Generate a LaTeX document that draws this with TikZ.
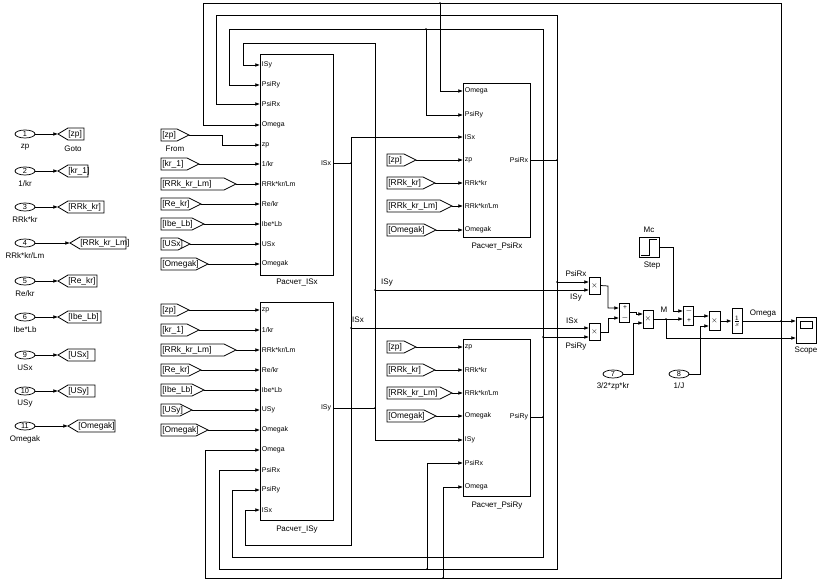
\documentclass[tikz,border=0pt]{standalone}
\usepackage{fontspec}
\setmainfont{Liberation Sans}
\usetikzlibrary{arrows.meta,shapes.geometric}
\newcommand\myinp[4]{\coordinate (#1) at (#2,#3); \node[plab,anchor=west] at (#2,#3) {#4};}
\newcommand\myoutp[4]{\coordinate (#1) at (#2,#3); \node[plab,anchor=east] at (#2,#3) {#4};}
\newcommand\myfrom[5]{%
 \draw[tag] (#2,#4-6) -- (#3,#4-6) -- (#3+12,#4) -- (#3,#4+6) -- (#2,#4+6) -- cycle;
 \node[tlab,anchor=west] at (#2+1,#4) {#5};
 \coordinate (#1) at (#3+12,#4);}
\newcommand\mygoto[5]{%
 \draw[tag] (#2,#4) -- (#2+10,#4-6) -- (#3,#4-6) -- (#3,#4+6) -- (#2+10,#4+6) -- cycle;
 \node[tlab,anchor=west] at (#2+10,#4) {#5};
 \coordinate (#1) at (#2,#4);}
\newcommand\myport[5]{%
 \node[draw,ellipse,minimum width=15pt,minimum height=6pt,inner sep=0pt,font=\fontsize{5.5}{6}\selectfont] (#1) at (#2,#3) {#4};
 \node[lab] at (#2,#3+13) {#5};}
\begin{document}
\begin{tikzpicture}[x=0.75pt,y=-0.75pt,line width=0.55pt,
 w/.style={-{Latex[length=3.5pt,width=2.8pt]}},
 tag/.style={line width=0.6pt},
 plab/.style={font=\fontsize{5.2}{6}\selectfont,inner sep=1.2pt},
 tlab/.style={font=\fontsize{6.3}{7}\selectfont,inner sep=0pt},
 lab/.style={font=\fontsize{6}{7}\selectfont,inner sep=0pt},
 blk/.style={draw,line width=0.7pt,inner sep=0pt},
 dot/.style={circle,fill,inner sep=0.5pt}]
\useasboundingbox (0,0) rectangle (821,584);

% ---------- left inports and goto tags ----------
\myport{p1}{25}{134}{1}{zp}
\myport{p2}{25}{171}{2}{1/kr}
\myport{p3}{25}{207}{3}{RRk*kr}
\myport{p4}{25}{243}{4}{RRk*kr/Lm}
\myport{p5}{25}{281}{5}{Re/kr}
\myport{p6}{25}{317}{6}{Ibe*Lb}
\myport{p9}{25}{355}{9}{USx}
\myport{p10}{25}{391}{10}{USy}
\myport{p11}{25}{426}{11}{Omegak}
\mygoto{g1}{58}{84}{134}{[zp]}
\mygoto{g2}{58}{88}{171}{[kr\_1]}
\mygoto{g3}{58}{104}{207}{[RRk\_kr]}
\mygoto{g4}{70}{126}{243}{[RRk\_kr\_Lm]}
\mygoto{g5}{58}{97}{281}{[Re\_kr]}
\mygoto{g6}{58}{101}{317}{[Ibe\_Lb]}
\mygoto{g9}{58}{95}{355}{[USx]}
\mygoto{g10}{58}{95}{391}{[USy]}
\mygoto{g11}{68}{115}{426}{[Omegak]}
\node[lab] at (73,149) {Goto};
\foreach \a/\b in {p1/g1,p2/g2,p3/g3,p4/g4,p5/g5,p6/g6,p9/g9,p10/g10,p11/g11}
  \draw[w] (\a.east) -- (\b);

% ---------- blocks ----------
\node[blk,minimum width=54.75pt,minimum height=165.75pt] (bISx) at (296.5,164.5) {};
\node[blk,minimum width=54.75pt,minimum height=163.5pt] (bISy) at (296.5,411) {};
\node[blk,minimum width=50.25pt,minimum height=115.5pt] (bPRx) at (496.5,160) {};
\node[blk,minimum width=50.25pt,minimum height=117.75pt] (bPRy) at (496.5,417.5) {};
\node[lab] at (297,283) {Расчет\_ISx};
\node[lab] at (297,530) {Расчет\_ISy};
\node[lab] at (497,246) {Расчет\_PsiRx};
\node[lab] at (497,505) {Расчет\_PsiRy};

% ISx ports
\myinp{xISy}{260}{65}{ISy}
\myinp{xPsiRy}{260}{85}{PsiRy}
\myinp{xPsiRx}{260}{104}{PsiRx}
\myinp{xOmega}{260}{125}{Omega}
\myinp{xzp}{260}{145}{zp}
\myinp{xkr}{260}{164}{1/kr}
\myinp{xRRL}{260}{184}{RRk*kr/Lm}
\myinp{xRe}{260}{204}{Re/kr}
\myinp{xIbe}{260}{224}{Ibe*Lb}
\myinp{xUS}{260}{244}{USx}
\myinp{xOmk}{260}{264}{Omegak}
\myoutp{xOut}{333}{163}{ISx}
% ISy ports
\myinp{yzp}{260}{310}{zp}
\myinp{ykr}{260}{330}{1/kr}
\myinp{yRRL}{260}{350}{RRk*kr/Lm}
\myinp{yRe}{260}{370}{Re/kr}
\myinp{yIbe}{260}{390}{Ibe*Lb}
\myinp{yUS}{260}{410}{USy}
\myinp{yOmk}{260}{430}{Omegak}
\myinp{yOmega}{260}{450}{Omega}
\myinp{yPsiRx}{260}{470}{PsiRx}
\myinp{yPsiRy}{260}{490}{PsiRy}
\myinp{yISx}{260}{510}{ISx}
\myoutp{yOut}{333}{408}{ISy}
% PsiRx ports
\myinp{rOmega}{463}{91}{Omega}
\myinp{rPsiRy}{463}{115}{PsiRy}
\myinp{rISx}{463}{137}{ISx}
\myinp{rzp}{463}{160}{zp}
\myinp{rRR}{463}{183}{RRk*kr}
\myinp{rRRL}{463}{206}{RRk*kr/Lm}
\myinp{rOmk}{463}{230}{Omegak}
\myoutp{rOut}{530}{160}{PsiRx}
% PsiRy ports
\myinp{qzp}{463}{347}{zp}
\myinp{qRR}{463}{370}{RRk*kr}
\myinp{qRRL}{463}{393}{RRk*kr/Lm}
\myinp{qOmk}{463}{416}{Omegak}
\myinp{qISy}{463}{440}{ISy}
\myinp{qPsiRx}{463}{463}{PsiRx}
\myinp{qOmega}{463}{487}{Omega}
\myoutp{qOut}{530}{417}{PsiRy}

% ---------- from tags ----------
\myfrom{f1}{161}{177}{135}{[zp]}
\node[lab] at (175,149) {From};
\myfrom{f2}{161}{187}{164}{[kr\_1]}
\myfrom{f3}{161}{224}{184}{[RRk\_kr\_Lm]}
\myfrom{f4}{161}{189}{204}{[Re\_kr]}
\myfrom{f5}{161}{192}{224}{[Ibe\_Lb]}
\myfrom{f6}{161}{178}{244}{[USx]}
\myfrom{f7}{161}{196}{264}{[Omegak]}
\draw[w] (f1) -- (222,135) |- (xzp);
\foreach \a/\b in {f2/xkr,f3/xRRL,f4/xRe,f5/xIbe,f6/xUS,f7/xOmk} \draw[w] (\a) -- (\b);
\myfrom{h1}{161}{177}{310}{[zp]}
\myfrom{h2}{161}{187}{330}{[kr\_1]}
\myfrom{h3}{161}{224}{350}{[RRk\_kr\_Lm]}
\myfrom{h4}{161}{189}{370}{[Re\_kr]}
\myfrom{h5}{161}{192}{390}{[Ibe\_Lb]}
\myfrom{h6}{161}{180}{410}{[USy]}
\myfrom{h7}{161}{196}{430}{[Omegak]}
\foreach \a/\b in {h1/yzp,h2/ykr,h3/yRRL,h4/yRe,h5/yIbe,h6/yUS,h7/yOmk} \draw[w] (\a) -- (\b);
\myfrom{k1}{387}{404}{160}{[zp]}
\myfrom{k2}{387}{423}{183}{[RRk\_kr]}
\myfrom{k3}{387}{440}{206}{[RRk\_kr\_Lm]}
\myfrom{k4}{387}{424}{230}{[Omegak]}
\foreach \a/\b in {k1/rzp,k2/rRR,k3/rRRL,k4/rOmk} \draw[w] (\a) -- (\b);
\myfrom{l1}{387}{404}{347}{[zp]}
\myfrom{l2}{387}{423}{370}{[RRk\_kr]}
\myfrom{l3}{387}{440}{393}{[RRk\_kr\_Lm]}
\myfrom{l4}{387}{424}{416}{[Omegak]}
\foreach \a/\b in {l1/qzp,l2/qRR,l3/qRRL,l4/qOmk} \draw[w] (\a) -- (\b);

% ---------- right part blocks ----------
\node[blk,minimum width=8.25pt,minimum height=12.75pt,font=\fontsize{5}{5}\selectfont] (m1) at (594.5,285.5) {$\times$};
\node[blk,minimum width=8.25pt,minimum height=12.75pt,font=\fontsize{5}{5}\selectfont] (m2) at (594.5,332) {$\times$};
\node[blk,minimum width=7.5pt,minimum height=14.25pt] (s1) at (624,312.5) {};
\node[font=\fontsize{5}{5}\selectfont] at (625,308) {+};
\node[font=\fontsize{5}{5}\selectfont] at (625,318) {$-$};
\node[blk,minimum width=7.5pt,minimum height=13.5pt,font=\fontsize{5}{5}\selectfont] (m3) at (648,319) {$\times$};
\node[blk,minimum width=7.5pt,minimum height=14.25pt] (s2) at (688,316) {};
\node[font=\fontsize{5}{5}\selectfont] at (689,311) {$-$};
\node[font=\fontsize{5}{5}\selectfont] at (689,321) {+};
\node[blk,minimum width=8.25pt,minimum height=14.25pt,font=\fontsize{5}{5}\selectfont] (m4) at (714.5,321) {$\times$};
\node[blk,minimum width=7.5pt,minimum height=18.75pt,font=\fontsize{5}{5}\selectfont] (ig) at (737,321) {$\frac{1}{s}$};
\node[blk,minimum width=15pt,minimum height=15pt] (st) at (649,247) {};
\draw (641,255) -- (649,255) -- (649,239) -- (657,239);
\node[lab] at (649,230) {Mc};
\node[lab] at (652,266) {Step};
\node[blk,minimum width=15pt,minimum height=19.5pt] (sc) at (806,330) {};
\draw (800,321) rectangle (812,328);
\node[lab] at (806,351) {Scope};
\node[draw,ellipse,minimum width=15pt,minimum height=6pt,inner sep=0pt,font=\fontsize{5.5}{6}\selectfont] (c7) at (613,374) {7};
\node[lab] at (613,386) {3/2*zp*kr};
\node[draw,ellipse,minimum width=15pt,minimum height=6pt,inner sep=0pt,font=\fontsize{5.5}{6}\selectfont] (c8) at (679,374) {8};
\node[lab] at (679,386) {1/J};

\coordinate (m1a) at (589,282); \coordinate (m1b) at (589,290);
\coordinate (m2a) at (589,328); \coordinate (m2b) at (589,337);
\coordinate (s1a) at (619,308); \coordinate (s1b) at (619,318);
\coordinate (m3a) at (643,314); \coordinate (m3b) at (643,323);
\coordinate (s2a) at (683,311); \coordinate (s2b) at (683,319);
\coordinate (m4a) at (709,316); \coordinate (m4b) at (709,326);
\coordinate (sc1) at (796,321); \coordinate (sc2) at (796,338);

% ---------- feedback wiring ----------
\coordinate (jx) at (351,163);
\draw (xOut) -- (jx);
\draw[w] (jx) |- (rISx);
\draw[w] (jx) -- (351,545) -- (245,545) |- (yISx);
\draw[w] (351,328) -- (m2a);
\node[lab] at (358,320) {ISx};
\coordinate (jy) at (375,408);
\draw (yOut) -- (jy);
\draw[w] (jy) |- (qISy);
\draw[w] (jy) -- (375,43) -- (243,43) |- (xISy);
\draw[w] (375,290) -- (m1b);
\node[lab] at (387,283) {ISy};
\coordinate (jr) at (557,160);
\draw (rOut) -- (jr);
\draw[w] (jr) -- (557,15) -- (216,15) |- (xPsiRx);
\draw[w] (jr) -- (557,569) -- (219,569) |- (yPsiRx);
\draw[w] (427,569) |- (qPsiRx);
\draw[w] (557,282) -- (m1a);
\coordinate (jq) at (543,417);
\draw (qOut) -- (jq);
\draw[w] (jq) -- (543,29) -- (229,29) |- (xPsiRy);
\draw[w] (426,29) |- (rPsiRy);
\draw[w] (jq) -- (543,557) -- (232,557) |- (yPsiRy);
\draw[w] (543,337) -- (m2b);
\coordinate (jo) at (781,321);
\draw[w] (ig.east) -- (sc1);
\draw[w] (jo) -- (781,3) -- (203,3) |- (xOmega);
\draw[w] (440,3) |- (rOmega);
\draw[w] (jo) -- (781,578) -- (205,578) |- (yOmega);
\draw[w] (443,578) |- (qOmega);
\node[lab] at (763,314) {Omega};

\node[lab] at (576,274) {PsiRx};
\node[lab] at (576,298) {ISy};
\node[lab] at (572,321) {ISx};
\node[lab] at (576,346) {PsiRy};

% ---------- torque chain ----------
\draw[w] (m1.east) -- (608,286) |- (s1a);
\draw[w] (m2.east) -- (608,332) |- (s1b);
\draw[w] (s1.east) -- (636,312.5) |- (m3a);
\draw[w] (c7.east) -- (633,374) |- (m3b);
\draw[w] (m3.east) -- (s2b);
\node[lab] at (664,310) {M};
\draw[w] (666,319) |- (sc2);
\draw[w] (st.east) -- (673,247) |- (s2a);
\draw[w] (s2.east) -- (m4a);
\draw[w] (c8.east) -- (700,374) |- (m4b);
\draw[w] (m4.east) -- (ig.west);

\foreach \p in {jx,jy,jr,jq,jo} \node[dot] at (\p) {};
\foreach \p in {(351,328),(375,290),(557,282),(543,337),(427,569),(426,29),(440,3),(443,578),(666,319)} \node[dot] at \p {};
\end{tikzpicture}
\end{document}
